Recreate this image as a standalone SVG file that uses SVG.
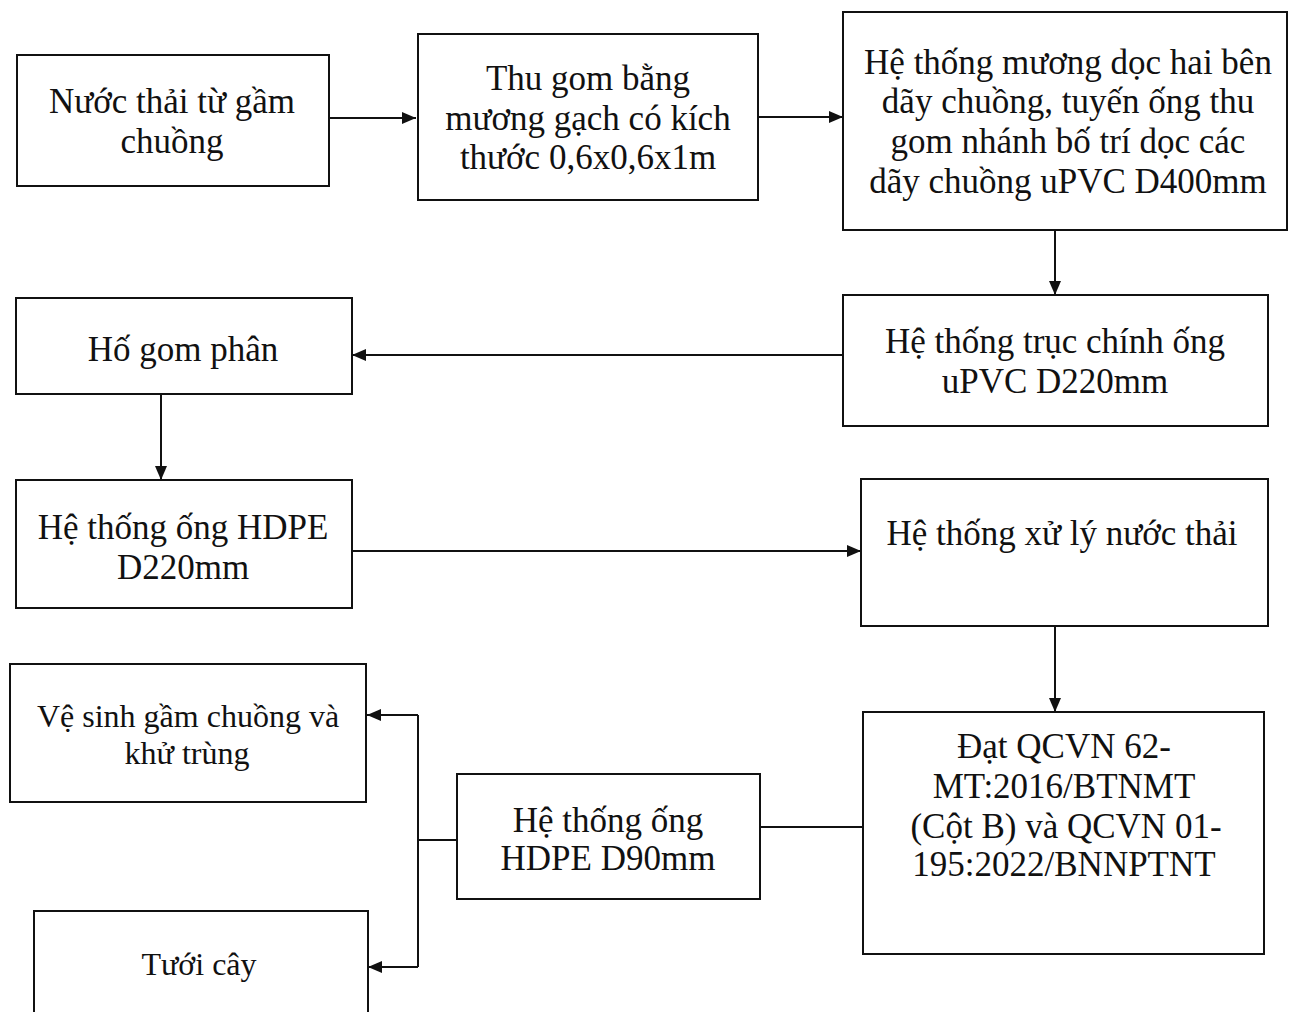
<svg xmlns="http://www.w3.org/2000/svg" width="1291" height="1012" viewBox="0 0 1291 1012">
<defs>
<style>
.box{fill:#fff;stroke:#111;stroke-width:2}
.t{font-family:"Liberation Serif","Times New Roman",serif;font-size:35px;fill:#111;text-anchor:middle}
.s{font-size:32px}
.c{stroke:#111;stroke-width:2;fill:none}
</style>
<marker id="ah" viewBox="0 0 14 12" refX="14" refY="6" markerWidth="14" markerHeight="12" markerUnits="userSpaceOnUse" orient="auto">
<path d="M0,0 L14,6 L0,12 z" fill="#111"/>
</marker>
</defs>
<rect width="1291" height="1012" fill="#fff"/>
<g id="connectors">
<line class="c" x1="329" y1="118" x2="416" y2="118" marker-end="url(#ah)"/>
<line class="c" x1="758" y1="117" x2="843" y2="117" marker-end="url(#ah)"/>
<line class="c" x1="1055" y1="230" x2="1055" y2="295" marker-end="url(#ah)"/>
<line class="c" x1="843" y1="355" x2="352" y2="355" marker-end="url(#ah)"/>
<line class="c" x1="161" y1="394" x2="161" y2="480" marker-end="url(#ah)"/>
<line class="c" x1="352" y1="551" x2="861" y2="551" marker-end="url(#ah)"/>
<line class="c" x1="1055" y1="626" x2="1055" y2="712" marker-end="url(#ah)"/>
<line class="c" x1="760" y1="827" x2="863" y2="827"/>
<line class="c" x1="457" y1="840" x2="418" y2="840"/>
<line class="c" x1="418" y1="715" x2="418" y2="967"/>
<line class="c" x1="418" y1="715" x2="367" y2="715" marker-end="url(#ah)"/>
<line class="c" x1="418" y1="967" x2="368" y2="967" marker-end="url(#ah)"/>
</g>
<g id="n1"><rect class="box" x="17" y="55" width="312" height="131"/>
<text class="t" x="172" y="113">Nước thải từ gầm</text><text class="t" x="172" y="153">chuồng</text></g>
<g id="n2"><rect class="box" x="418" y="34" width="340" height="166"/>
<text class="t" x="588" y="90">Thu gom bằng</text><text class="t" x="588" y="130">mương gạch có kích</text><text class="t" x="588" y="169">thước 0,6x0,6x1m</text></g>
<g id="n3"><rect class="box" x="843" y="12" width="444" height="218"/>
<text class="t" x="1068" y="74">Hệ thống mương dọc hai bên</text><text class="t" x="1068" y="113">dãy chuồng, tuyến ống thu</text><text class="t" x="1068" y="153">gom nhánh bố trí dọc các</text><text class="t" x="1068" y="193">dãy chuồng uPVC D400mm</text></g>
<g id="n4"><rect class="box" x="843" y="295" width="425" height="131"/>
<text class="t" x="1055" y="353">Hệ thống trục chính ống</text><text class="t" x="1055" y="393">uPVC D220mm</text></g>
<g id="n5"><rect class="box" x="16" y="298" width="336" height="96"/>
<text class="t" x="183" y="361">Hố gom phân</text></g>
<g id="n6"><rect class="box" x="16" y="480" width="336" height="128"/>
<text class="t" x="183" y="539">Hệ thống ống HDPE</text><text class="t" x="183" y="579">D220mm</text></g>
<g id="n7"><rect class="box" x="861" y="479" width="407" height="147"/>
<text class="t" x="1062" y="545">Hệ thống xử lý nước thải</text></g>
<g id="n8"><rect class="box" x="863" y="712" width="401" height="242"/>
<text class="t" x="1064" y="758">Đạt QCVN 62-</text><text class="t" x="1064" y="798">MT:2016/BTNMT</text><text class="t" x="1066" y="838">(Cột B) và QCVN 01-</text><text class="t" x="1064" y="876">195:2022/BNNPTNT</text></g>
<g id="n9"><rect class="box" x="457" y="774" width="303" height="125"/>
<text class="t" x="608" y="832">Hệ thống ống</text><text class="t" x="608" y="870">HDPE D90mm</text></g>
<g id="n10"><rect class="box" x="10" y="664" width="356" height="138"/>
<text class="t s" x="188" y="727">Vệ sinh gầm chuồng và</text><text class="t s" x="187" y="764">khử trùng</text></g>
<g id="n11"><rect class="box" x="34" y="911" width="334" height="120"/>
<text class="t s" x="199" y="975">Tưới cây</text></g>
</svg>
